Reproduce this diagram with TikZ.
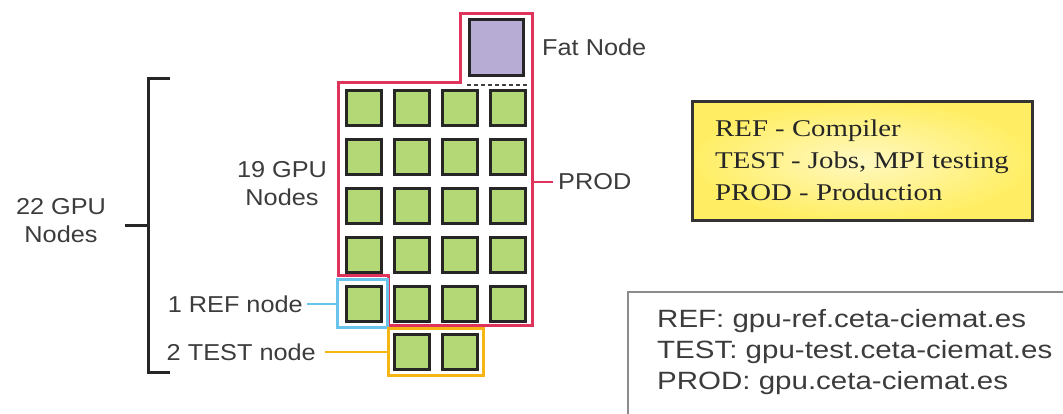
\documentclass[tikz,border=0pt]{standalone}
\usepackage{fontspec}
\usetikzlibrary{positioning}
\newfontfamily\lblfont[FakeStretch=1.1]{Liberation Sans}
\newfontfamily\hostfont[FakeStretch=1.18]{Liberation Sans}
\newfontfamily\rolefont[FakeStretch=1.2]{Liberation Serif}
\definecolor{prodred}{RGB}{222,52,92}
\definecolor{refblue}{RGB}{105,195,235}
\definecolor{testorange}{RGB}{245,182,20}
\definecolor{gpugreen}{RGB}{180,216,118}
\definecolor{fatlilac}{RGB}{182,172,212}
\definecolor{txtgray}{RGB}{60,60,60}
\definecolor{noteyellow}{RGB}{255,238,100}
\tikzstyle{gpu}=[draw=black!85,line width=3pt,fill=gpugreen,minimum size=35pt,inner sep=0pt]
\tikzstyle{fatgpu}=[gpu,fill=fatlilac,minimum width=54pt,minimum height=56pt]
\tikzstyle{lbl}=[text=txtgray,font={\lblfont\fontsize{23}{28}\selectfont},inner sep=0pt]
\tikzstyle{grpbox}=[draw,line width=3pt,inner sep=0pt]
\tikzstyle{link}=[line width=2.5pt]
\tikzstyle{brace}=[line width=3pt,draw=black!85]
\tikzstyle{rolebox}=[draw=black!80,line width=3pt,inner color=noteyellow!40!white,outer color=noteyellow,
  minimum width=340pt,minimum height=119pt,align=left,
  text=black!85,font={\rolefont\fontsize{24}{32}\selectfont}]
\tikzstyle{hostframe}=[draw=black!45,line width=2pt,minimum width=470pt,minimum height=150pt,anchor=north west]
\tikzstyle{hosttext}=[text=txtgray,font={\hostfont\fontsize{25}{31}\selectfont},inner sep=0pt,align=left,anchor=north west]

\begin{document}
\begin{tikzpicture}[x=1pt,y=-1pt]
	\path[use as bounding box,clip] (0,0) rectangle (1063,413);
	% gpu grid
	\foreach \r/\y in {1/107.5,2/156.5,3/205.5,4/254.5,5/303.5}
	  \foreach \c/\x in {1/363.5,2/411.5,3/459.5,4/507.5}
	    \node[gpu] (g-\r-\c) at (\x,\y) {};
	\node[gpu] (g-6-2) at (411.5,351.5) {};
	\node[gpu] (g-6-3) at (459.5,351.5) {};
	\node[fatgpu] (fat) at (496.5,47.5) {};
	\draw[black!75,line width=2pt,dash pattern=on 4pt off 3pt]
	  ([shift={(-1,7.5)}]fat.south west) -- ([shift={(4,7.5)}]fat.south east);
	% groups
	\draw[prodred,line width=3pt] (460,13) -- (532,13) -- (532,325) -- (388,325) -- (388,275)
	  -- (338,275) -- (338,82) -- (460,82) -- cycle;
	\node[grpbox,draw=refblue,minimum width=50pt,minimum height=48pt] (refgrp) at (362,303) {};
	\node[grpbox,draw=testorange,minimum width=95pt,minimum height=47pt] (testgrp) at (435.5,351.5) {};
	\coordinate (prodedge) at (532,182);
	% labels
	\node[lbl,align=center] (all) at (61,221) {22 GPU\\Nodes};
	\node[lbl,align=center] (prodn) at (282,184) {19 GPU\\Nodes};
	\node[lbl,anchor=east] (reflbl) at (303,304) {1 REF node};
	\node[lbl,anchor=east] (testlbl) at (316,352) {2 TEST node};
	\node[lbl,anchor=west] (fatlbl) at (542,47) {Fat Node};
	\node[lbl,anchor=west] (prodlbl) at (558,182) {PROD};
	\draw[link,refblue,shorten <=4pt] (reflbl.east) -- (reflbl.east -| refgrp.west);
	\draw[link,testorange,shorten <=9pt] (testlbl.east) -- (testlbl.east -| testgrp.west);
	\draw[link,prodred,shorten >=5pt] (prodedge) -- (prodedge -| prodlbl.west);
	% bracket
	\coordinate (brmid) at (148,225);
	\draw[brace] (170,78) -- (148,78) -- (148,372) -- (170,372);
	\draw[brace] (brmid) -- ++(-23,0);
	% notes
	\node[rolebox] (roles) at (862,160.5) {REF - Compiler\\TEST - Jobs, MPI testing\\PROD - Production};
	\node[hostframe] (hostbox) at (627,291) {};
	\node[hosttext] (hosts) at (657,309) {REF: gpu-ref.ceta-ciemat.es\\TEST: gpu-test.ceta-ciemat.es\\PROD: gpu.ceta-ciemat.es};
\end{tikzpicture}
\end{document}
